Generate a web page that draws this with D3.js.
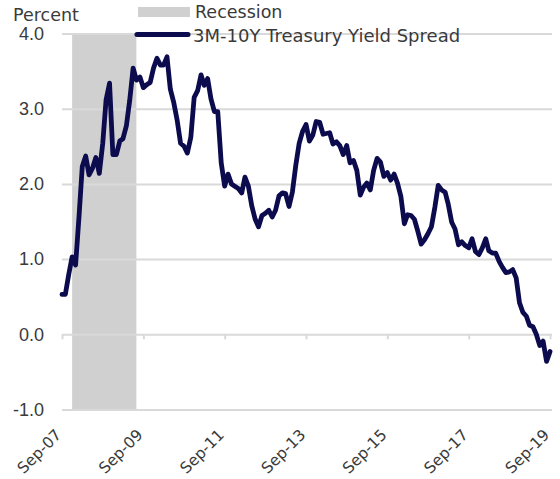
<!DOCTYPE html>
<html>
<head>
<meta charset="utf-8">
<script src="https://cdn.jsdelivr.net/npm/d3@7"></script>
<style>
  html, body { margin: 0; padding: 0; background: #fff; }
  svg { display: block; font-family: "DejaVu Sans", sans-serif; }
</style>
</head>
<body>
<svg id="chart" width="560" height="479"></svg>
<script>
// ---- Data ----
const startMonth = "2007-09";   // first monthly observation
const endMonth = "2019-09";     // last monthly observation
const spread = [
  0.53, 0.53, 0.80, 1.03,
  0.92, 1.57, 2.23, 2.37, 2.12, 2.21, 2.35, 2.14, 2.54, 3.12, 3.34, 2.39,
  2.39, 2.57, 2.60, 2.77, 3.11, 3.54, 3.38, 3.42, 3.28, 3.32, 3.35, 3.54,
  3.67, 3.58, 3.58, 3.69, 3.26, 3.08, 2.85, 2.54, 2.50, 2.41, 2.62, 3.15,
  3.24, 3.45, 3.31, 3.40, 3.13, 2.96, 2.96, 2.28, 1.97, 2.13, 2.00, 1.97,
  1.94, 1.88, 2.09, 1.97, 1.71, 1.53, 1.43, 1.58, 1.61, 1.65, 1.56, 1.65,
  1.84, 1.88, 1.87, 1.70, 1.89, 2.25, 2.54, 2.70, 2.79, 2.57, 2.65, 2.83,
  2.82, 2.66, 2.67, 2.68, 2.53, 2.56, 2.51, 2.39, 2.51, 2.28, 2.31, 2.18,
  1.85, 1.96, 2.01, 1.92, 2.18, 2.34, 2.29, 2.10, 2.15, 2.05, 2.13, 2.01,
  1.83, 1.47, 1.59, 1.58, 1.53, 1.37, 1.20, 1.26, 1.34, 1.43, 1.69, 1.98,
  1.92, 1.89, 1.73, 1.49, 1.40, 1.19, 1.23, 1.18, 1.15, 1.27, 1.10, 1.06,
  1.15, 1.27, 1.11, 1.08, 1.08, 0.97, 0.89, 0.82, 0.83, 0.86, 0.75, 0.42,
  0.29, 0.24, 0.12, 0.10, 0.00, -0.15, -0.09, -0.36, -0.23
];
const recessionStart = "2007-12-01";
const recessionEnd = "2009-06-30";
const xTickDates = ["2007-09", "2009-09", "2011-09", "2013-09", "2015-09", "2017-09", "2019-09"];
const xTickLabels = ["Sep-07", "Sep-09", "Sep-11", "Sep-13", "Sep-15", "Sep-17", "Sep-19"];
const yTicks = [-1, 0, 1, 2, 3, 4];
const yTickLabels = ["-1.0", "0.0", "1.0", "2.0", "3.0", "4.0"];
const seriesName = "3M-10Y Treasury Yield Spread";
const recessionName = "Recession";
const yTitle = "Percent";

// ---- Setup ----
const parseM = d3.timeParse("%Y-%m");
const parseD = d3.timeParse("%Y-%m-%d");
const months = d3.timeMonth.range(parseM(startMonth), d3.timeMonth.offset(parseM(endMonth), 1));
const data = months.map((d, i) => ({ date: d, value: spread[i] }));

const svg = d3.select("#chart");
const mLeft = 62, mRight = 550, mTop = 33.5, mBottom = 409.5;
const x = d3.scaleTime().domain([parseM(startMonth), parseM(endMonth)]).range([mLeft, mRight]);
const y = d3.scaleLinear().domain([-1, 4]).range([mBottom, mTop]);

const textColor = "#3a3a3a";
const gridColor = "#d9d9d9";
const lineColor = "#0b0b4e";
const recColor = "#d0d0d0";

// Recession shading
svg.append("rect")
  .attr("x", x(parseD(recessionStart)))
  .attr("y", y(4))
  .attr("width", x(parseD(recessionEnd)) - x(parseD(recessionStart)))
  .attr("height", y(-1) - y(4))
  .attr("fill", recColor);

// Gridlines
const yAxis = d3.axisLeft(y).tickValues(yTicks).tickSize(-(mRight + 2 - mLeft)).tickFormat((d, i) => yTickLabels[i]);
const gy = svg.append("g").attr("transform", `translate(${mLeft},0)`).call(yAxis);
gy.select(".domain").remove();
gy.selectAll(".tick line").attr("stroke", gridColor).attr("stroke-width", 2);
gy.selectAll(".tick text").attr("fill", textColor).style("font-size", "18px").attr("x", -18);

// X axis ticks on zero line
const xAxis = d3.axisBottom(x).tickValues(xTickDates.map(parseM)).tickSize(5).tickFormat("");
const gx = svg.append("g").attr("transform", `translate(0,${y(0)})`).call(xAxis);
gx.select(".domain").remove();
gx.selectAll(".tick line").attr("stroke", gridColor).attr("stroke-width", 2);

// X labels at bottom, rotated
svg.append("g").selectAll("text")
  .data(xTickDates)
  .join("text")
  .attr("transform", d => `translate(${x(parseM(d)) - 3.5},${mBottom + 22.5}) rotate(-45)`)
  .attr("text-anchor", "end")
  .attr("dy", "0.35em")
  .attr("fill", textColor)
  .style("font-size", "15.5px")
  .text((d, i) => xTickLabels[i]);

// Series line
const line = d3.line().x(d => x(d.date)).y(d => y(d.value));
svg.append("path")
  .datum(data)
  .attr("d", line)
  .attr("fill", "none")
  .attr("stroke", lineColor)
  .attr("stroke-width", 4.8)
  .attr("stroke-linejoin", "round")
  .attr("stroke-linecap", "round");

// Y title
svg.append("text").attr("x", 13).attr("y", 21).attr("fill", textColor).style("font-size", "17.5px").text(yTitle);

// Legend
svg.append("rect").attr("x", 138).attr("y", 7).attr("width", 52).attr("height", 10).attr("fill", recColor);
svg.append("text").attr("x", 195).attr("y", 18).attr("fill", textColor).style("font-size", "17.5px").text(recessionName);
svg.append("line").attr("x1", 137).attr("x2", 188).attr("y1", 34.5).attr("y2", 34.5)
  .attr("stroke", lineColor).attr("stroke-width", 5).attr("stroke-linecap", "round");
svg.append("text").attr("x", 193).attr("y", 41.5).attr("fill", textColor).style("font-size", "18px").text(seriesName);
</script>
</body>
</html>
